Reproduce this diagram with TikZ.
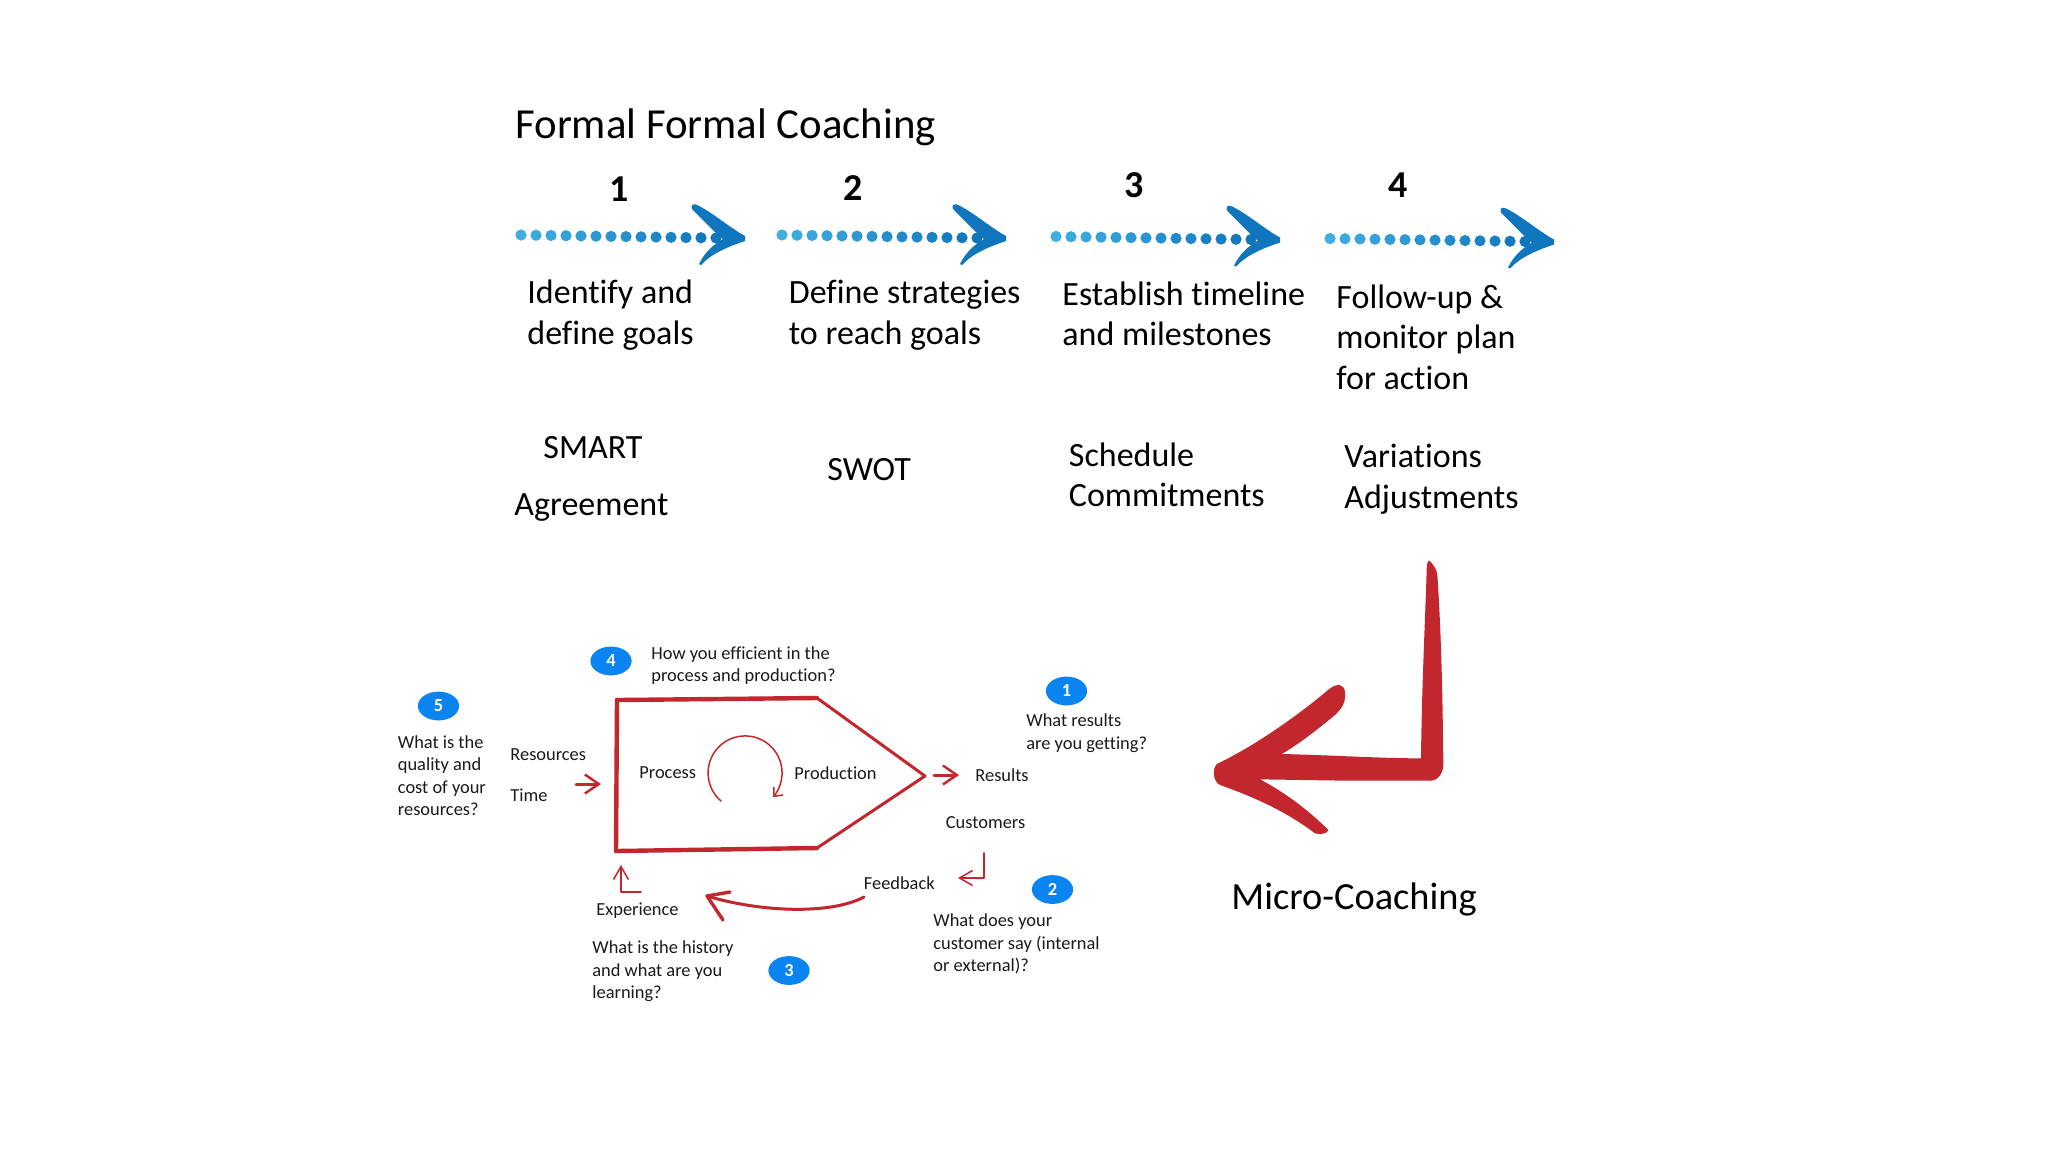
\documentclass[tikz,border=0pt]{standalone}
\usepackage{fontspec}
\setmainfont{Carlito}[Ligatures=NoCommon]
\usetikzlibrary{arrows.meta}
\definecolor{cred}{HTML}{C1272D}
\definecolor{cbadge}{HTML}{0A84F0}
\definecolor{cdotA}{HTML}{3FAEE0}
\definecolor{cdotB}{HTML}{0F75BC}
\definecolor{ctext}{HTML}{1A1A1A}
\tikzset{
  big/.style={anchor=west,inner sep=0pt,align=left,text=black,font=\fontsize{17}{20.3}\selectfont},
  titletext/.style={anchor=west,inner sep=0pt,font=\fontsize{21.4}{24}\selectfont},
  num/.style={inner sep=0pt,font=\fontsize{19}{21}\selectfont\bfseries},
  small/.style={anchor=west,inner sep=0pt,align=left,text=ctext,font=\fontsize{9.2}{11.2}\selectfont},
  badgetext/.style={inner sep=0pt,text=white,font=\fontsize{9.2}{11}\selectfont\bfseries},
  redline/.style={draw=cred,line width=1.5pt,line join=round,line cap=round},
  redthin/.style={draw=cred,line width=0.75pt,line join=round,line cap=round},
  barb/.style={-{Straight Barb[length=7pt,width=9.5pt,line width=1.2pt]}},
  barbthin/.style={-{Straight Barb[length=6.5pt,width=7.5pt,line width=0.75pt]}},
  barbarc/.style={-{Straight Barb[length=3.5pt,width=6pt,line width=0.75pt]}},
}
\newcommand{\bluearrow}[2]{%
  \foreach \i in {0,...,13}{%
    \pgfmathsetmacro{\mixv}{100*\i/13}%
    \fill[cdotB!\mixv!cdotA] ({#1-224+15*\i},{#2-3+3*\i/13}) circle (2.8pt);
  }%
  \fill[cdotB,shift={(#1,#2)}] (-48,-33) .. controls (-33,-26) and (-15,-10) .. (0,-2)
    -- (0,3) .. controls (-18,9) and (-34,16) .. (-44,27) -- (-46,26)
    .. controls (-40,14) and (-32,7) .. (-22,1)
    .. controls (-32,-7) and (-44,-20) .. (-53,-29)
    .. controls (-55,-33) and (-51,-35) .. (-48,-33) -- cycle;
}
\begin{document}
\begin{tikzpicture}[x=0.5pt,y=-0.5pt]
\useasboundingbox[fill=white] (0,0) rectangle (2048,1152);

\node[titletext] (title) at (515,127.5) {Formal Formal Coaching};

\node[num] (n1) at (619,189) {1};
\node[num] (n2) at (853,188) {2};
\node[num] (n3) at (1134,185) {3};
\node[num] (n4) at (1398,185) {4};

\bluearrow{745}{238}
\bluearrow{1006}{238}
\bluearrow{1280}{239.5}
\bluearrow{1554}{241.5}

\node[big] (s1) at (527,315) {Identify and\\define goals};
\node[big] (s2) at (788.5,315) {Define strategies\\to reach goals};
\node[big] (s3) at (1062,314) {Establish timeline\\and milestones};
\node[big] (s4) at (1336,337) {Follow-up \&\\monitor plan\\for action};

\node[big] (smart) at (543,448) {SMART};
\node[big] (agr) at (514,507.5) {Agreement};
\node[big] (swot) at (827,470) {SWOT};
\node[big] (sch) at (1068.5,475) {Schedule\\Commitments};
\node[big] (var) at (1344,479) {Variations\\Adjustments};

\node[big,font=\fontsize{19.2}{22}\selectfont] (micro) at (1231,899) {Micro-Coaching};

% big red arrow
\fill[cred,shift={(1180,540)},x=0.16667pt,y=-0.16667pt]
  (748,62) .. controls (758,72) and (770,85) .. (772,105)
  .. controls (785,300) and (788,500) .. (790,670)
  .. controls (790,700) and (775,722) .. (750,722)
  -- (500,722) -- (240,718)
  .. controls (320,760) and (390,815) .. (445,870)
  .. controls (445,880) and (420,885) .. (405,880)
  .. controls (320,815) and (220,770) .. (120,735)
  .. controls (100,725) and (95,690) .. (110,672)
  .. controls (220,620) and (350,530) .. (450,445)
  .. controls (470,430) and (495,430) .. (495,460)
  .. controls (497,490) and (485,505) .. (465,525)
  .. controls (410,570) and (360,610) .. (305,642)
  .. controls (450,645) and (600,655) .. (723,655)
  .. controls (725,450) and (735,250) .. (740,90)
  .. controls (740,75) and (742,62) .. (748,62) -- cycle;

% pentagon
\coordinate (ptl) at (617,700);
\coordinate (ptr) at (817,698);
\coordinate (pt) at (925,776);
\coordinate (pbr) at (817,848);
\coordinate (pbl) at (616,851);
\draw[redline,line width=2.2pt] (ptl) -- (ptr);
\draw[redline,line width=1.5pt] (ptr) -- (pt) -- (pbr);
\draw[redline,line width=2.2pt] (pbr) -- (pbl);
\draw[redline,line width=2.2pt] (ptl) -- (pbl);

% labels
\node[small] (proc) at (639,773) {Process};
\node[small] (prod) at (794,773) {Production};
\node[small] (res) at (510,755) {Resources};
\node[small] (time) at (510,795) {Time};
\node[small] (results) at (975,775) {Results};
\node[small] (cust) at (945.5,823) {Customers};
\node[small] (fb) at (863.5,883) {Feedback};
\node[small] (exp) at (596,911) {Experience};

\node[small] (q4) at (651,665.5) {How you efficient in the\\process and production?};
\node[small] (q5) at (397.5,775.5) {What is the\\quality and\\cost of your\\resources?};
\node[small] (q3) at (592,971.5) {What is the history\\and what are you\\learning?};
\node[small] (q2) at (933,944) {What does your\\customer say (internal\\or external)?};
\node[small] (q1) at (1026,733) {What results\\are you getting?};

% badges
\foreach \nm/\cx/\cy/\lab in {b1/1066.5/691/1,b2/1052.5/889.5/2,b3/789/970.5/3,b4/611/661/4,b5/438.5/706/5}{
  \fill[cbadge] (\cx,\cy) ellipse (10.3pt and 7.2pt);
  \node[badgetext] (\nm) at (\cx,\cy) {\lab};
}

% circular arrow
\draw[redthin,barbarc] (721,801) arc[start angle=229.4,end angle=-41,x radius=37,y radius=-37];

% connectors
\coordinate (a1) at (576,784);
\coordinate (a2) at (601,784);
\draw[redline,barb] (a1) -- (a2);
\coordinate (b1s) at (934,775);
\coordinate (b1e) at (959,775);
\draw[redline,barb] (b1s) -- (b1e);
\coordinate (c1) at (984,853);
\coordinate (c2) at (984,878);
\coordinate (c3) at (958,878);
\draw[redthin,barbthin] (c1) -- (c2) -- (c3);
\coordinate (d1) at (864,897);
\coordinate (d2) at (707,896);
\coordinate (d3) at (730,892);
\coordinate (d4) at (723,920);
\draw[redline,line width=1.5pt] (d1) .. controls (830,915) and (760,912) .. (d2);
\draw[redline,line width=1.7pt] (d3) -- (d2) -- (d4);
\coordinate (e1) at (641,892);
\coordinate (e2) at (621,892);
\coordinate (e3) at (621,865);
\draw[redthin,barbthin] (e1) -- (e2) -- (e3);
\end{tikzpicture}
\end{document}
